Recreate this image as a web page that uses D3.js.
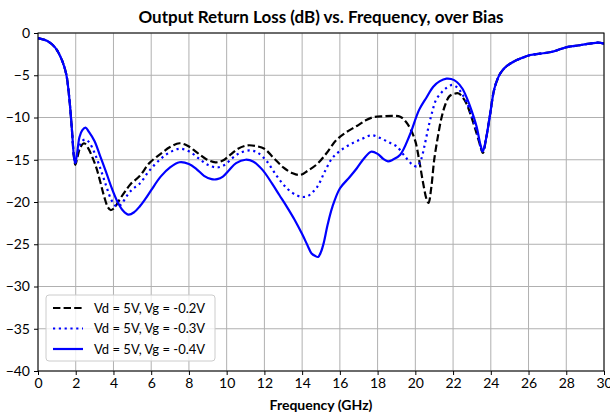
<!DOCTYPE html>
<html><head><meta charset="utf-8">
<script src="https://cdn.jsdelivr.net/npm/d3@7"></script>
<style>body{margin:0;background:#fff}svg{display:block}text{font-family:Lato,"Open Sans",sans-serif}</style>
</head><body><svg id="c" width="610" height="417"></svg>
<script>
const title = "Output Return Loss (dB) vs. Frequency, over Bias";
const xLabel = "Frequency (GHz)";
const xTicks = [0,2,4,6,8,10,12,14,16,18,20,22,24,26,28,30];
const yTicks = [0,-5,-10,-15,-20,-25,-30,-35,-40];
const seriesNames = ["Vd = 5V, Vg = -0.2V","Vd = 5V, Vg = -0.3V","Vd = 5V, Vg = -0.4V"];

// shared start (0-1.8 GHz) and shared tail (>23.7 GHz)
const headF = [0,0.5,0.9,1.1,1.3,1.5,1.65,1.8];
const headV = [-0.6,-0.95,-1.7,-2.4,-3.4,-4.9,-7.5,-11.5];
const tailF = [23.75,23.95,24.2,24.5,24.8,25.2,25.6,26.1,26.6,27.2,27.7,28.1,28.7,29.4,29.7,30];
const tailV = [-12.5,-9.8,-6.5,-4.8,-4.0,-3.4,-3.0,-2.6,-2.45,-2.25,-1.9,-1.65,-1.45,-1.2,-1.15,-1.25];

// Vg = -0.2 V (dashed)
const fA = [1.9,1.98,2.1,2.25,2.45,2.65,2.9,3.1,3.3,3.5,3.7,3.85,4.05,4.3,4.6,4.9,5.4,5.9,6.5,7.0,7.5,7.9,8.4,8.9,9.4,9.8,10.2,10.6,11.1,11.6,12.0,12.5,13.0,13.5,13.9,14.3,14.8,15.3,15.8,16.3,16.9,17.4,17.8,18.3,18.8,19.2,19.5,19.75,20.0,20.2,20.4,20.6,20.7,20.85,21.0,21.2,21.4,21.6,21.8,22.05,22.3,22.5,22.7,22.95,23.25,23.45,23.58];
const vA = [-14.6,-15.6,-14.6,-13.5,-13.05,-13.6,-14.8,-16.0,-17.6,-19.3,-20.6,-20.95,-20.7,-19.8,-18.8,-17.9,-16.9,-15.4,-14.3,-13.5,-13.05,-13.3,-14.1,-14.9,-15.3,-15.1,-14.4,-13.7,-13.3,-13.4,-13.7,-14.8,-15.9,-16.6,-16.8,-16.3,-15.5,-14.2,-12.7,-11.8,-11.0,-10.3,-9.95,-9.85,-9.8,-9.9,-10.5,-11.4,-12.8,-15.0,-17.6,-19.7,-20.1,-18.2,-15.0,-12.2,-9.9,-8.4,-7.5,-7.2,-7.15,-7.6,-8.3,-9.8,-11.9,-13.4,-14.2];

// Vg = -0.3 V (dotted)
const fB = [1.9,1.97,2.1,2.3,2.5,2.7,3.0,3.3,3.6,3.9,4.15,4.4,4.7,5.0,5.4,5.9,6.5,7.0,7.5,8.0,8.5,9.0,9.5,9.9,10.3,10.7,11.2,11.6,12.1,12.65,13.2,13.7,14.0,14.3,14.8,15.2,15.6,16.1,16.7,17.2,17.7,18.2,18.65,19.0,19.45,19.8,20.1,20.3,20.5,20.7,20.9,21.1,21.4,21.65,21.95,22.2,22.45,22.7,23.0,23.3,23.5,23.58];
const vB = [-14.6,-15.4,-14.2,-12.9,-12.6,-12.9,-14.2,-16.0,-18.0,-19.8,-20.5,-20.3,-19.3,-18.5,-17.8,-16.3,-14.9,-14.1,-13.7,-14.0,-14.8,-15.6,-15.9,-15.6,-14.8,-14.2,-13.9,-14.1,-15.1,-16.9,-18.4,-19.2,-19.4,-19.3,-18.2,-16.4,-14.8,-13.8,-13.0,-12.5,-12.1,-12.5,-13.0,-13.4,-14.6,-15.5,-15.8,-15.0,-13.2,-11.1,-9.3,-7.9,-7.0,-6.5,-6.15,-6.4,-7.1,-8.1,-9.9,-12.0,-13.8,-14.0];

// Vg = -0.4 V (solid)
const fC = [1.9,1.97,2.05,2.2,2.35,2.52,2.7,3.0,3.3,3.6,3.9,4.2,4.5,4.8,5.1,5.4,5.7,6.0,6.5,7.0,7.5,8.0,8.4,8.8,9.2,9.5,9.8,10.1,10.5,11.0,11.4,11.9,12.4,12.8,13.2,13.6,14.0,14.3,14.5,14.7,14.85,15.0,15.15,15.35,15.6,16.0,16.5,16.9,17.3,17.65,18.0,18.3,18.55,18.8,19.2,19.7,20.2,20.6,20.95,21.3,21.65,21.9,22.2,22.5,22.75,23.0,23.25,23.45,23.58];
const vC = [-14.5,-15.4,-14.6,-12.3,-11.5,-11.2,-11.7,-12.8,-14.6,-16.4,-18.3,-19.9,-21.0,-21.5,-21.2,-20.5,-19.6,-18.6,-17.0,-15.9,-15.3,-15.5,-16.1,-16.9,-17.3,-17.3,-17.0,-16.3,-15.4,-15.0,-15.2,-16.2,-17.8,-19.2,-20.6,-22.1,-23.8,-25.2,-26.1,-26.4,-26.5,-25.9,-24.8,-22.7,-20.6,-18.4,-17.1,-16.0,-14.8,-14.05,-14.3,-14.9,-15.2,-15.0,-14.4,-12.1,-9.1,-7.6,-6.35,-5.7,-5.4,-5.45,-5.8,-6.6,-7.8,-9.3,-11.1,-13.2,-14.0];

const M = {left:38, right:604, top:33, bottom:371};
const svg = d3.select("#c");
const x = d3.scaleLinear().domain([0,30]).range([M.left, M.right]);
const y = d3.scaleLinear().domain([-40,0]).range([M.bottom, M.top]);

// grid
const g = svg.append("g");
g.selectAll(".gx").data(xTicks).join("line")
  .attr("x1", d=>x(d)).attr("x2", d=>x(d)).attr("y1", M.top).attr("y2", M.bottom)
  .attr("stroke", "#b0b0b0").attr("stroke-width", 1);
g.selectAll(".gy").data(yTicks).join("line")
  .attr("y1", d=>y(d)).attr("y2", d=>y(d)).attr("x1", M.left).attr("x2", M.right)
  .attr("stroke", "#b0b0b0").attr("stroke-width", 1);

function build(f, v) {
  const F = headF.concat(f, tailF), V = headV.concat(v, tailV);
  return F.map((d,i)=>[d, V[i]]);
}
const line = d3.line().x(d=>x(d[0])).y(d=>y(d[1])).curve(d3.curveCatmullRom.alpha(0.5));
const styles = [
  {stroke:"#000000", dash:"7.4,3.2", cap:"butt"},
  {stroke:"#0000ff", dash:"2.2,3.6", cap:"butt"},
  {stroke:"#0000ff", dash:null, cap:"butt"}
];
const data = [build(fA,vA), build(fB,vB), build(fC,vC)];
svg.append("clipPath").attr("id","pc").append("rect")
  .attr("x", M.left).attr("y", M.top).attr("width", M.right-M.left).attr("height", M.bottom-M.top);
data.forEach((d,i)=>{
  svg.append("path").datum(d).attr("d", line).attr("fill","none")
    .attr("clip-path","url(#pc)")
    .attr("stroke", styles[i].stroke).attr("stroke-width", 2.2)
    .attr("stroke-dasharray", styles[i].dash).attr("stroke-linecap", styles[i].cap)
    .attr("stroke-linejoin","round");
});

// axes
const fmt = d => d < 0 ? "\u2212" + Math.abs(d) : String(d);
const xa = svg.append("g").attr("transform", `translate(0,${M.bottom})`)
  .call(d3.axisBottom(x).tickValues(xTicks).tickSize(4).tickPadding(3).tickFormat(fmt));
const ya = svg.append("g").attr("transform", `translate(${M.left},0)`)
  .call(d3.axisLeft(y).tickValues(yTicks).tickSize(4).tickPadding(4).tickFormat(fmt));
[xa, ya].forEach(a=>{
  a.select(".domain").remove();
  a.selectAll("line").attr("stroke","#000").attr("stroke-width",1);
  a.selectAll("text").attr("font-size", 14).attr("fill","#000");
});
svg.append("rect").attr("x", M.left).attr("y", M.top).attr("width", M.right-M.left)
  .attr("height", M.bottom-M.top).attr("fill","none").attr("stroke","#000").attr("stroke-width",1);

// title + label
svg.append("text").attr("x", (M.left+M.right)/2).attr("y", 23).attr("text-anchor","middle")
  .attr("font-size", 17).attr("font-weight","bold").text(title);
svg.append("text").attr("x", (M.left+M.right)/2).attr("y", 410).attr("text-anchor","middle")
  .attr("font-size", 14).attr("font-weight","bold").text(xLabel);

// legend
const L = svg.append("g");
L.append("rect").attr("x", 46).attr("y", 295).attr("width", 169).attr("height", 66).attr("rx", 3)
  .attr("fill","#fff").attr("fill-opacity",0.8).attr("stroke","#cccccc").attr("stroke-width",1);
seriesNames.forEach((n,i)=>{
  const yy = 308 + i*20.5;
  L.append("line").attr("x1", 53).attr("x2", 83).attr("y1", yy).attr("y2", yy)
    .attr("stroke", styles[i].stroke).attr("stroke-width", 2.2).attr("stroke-dasharray", styles[i].dash);
  L.append("text").attr("x", 94).attr("y", yy+4.5).attr("font-size", 13).text(n);
});
</script></body></html>
